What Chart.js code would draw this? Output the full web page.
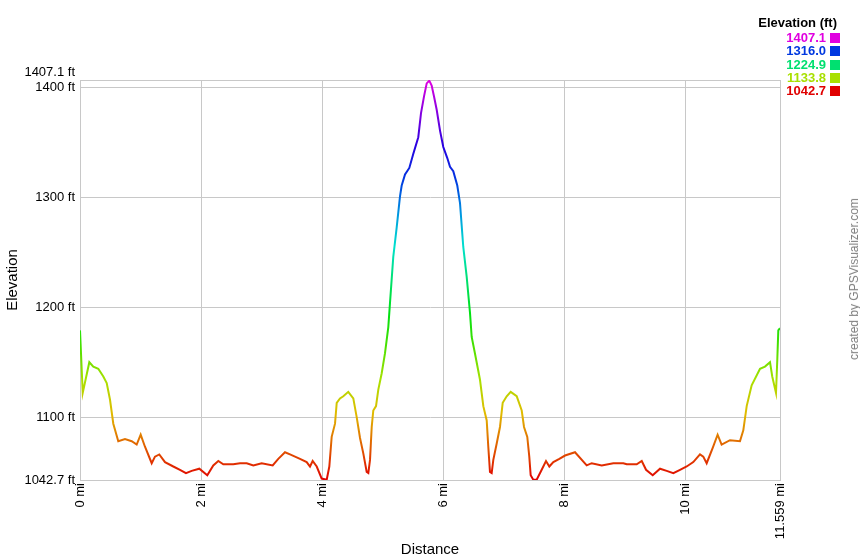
<!DOCTYPE html>
<html>
<head>
<meta charset="utf-8">
<script src="https://cdn.jsdelivr.net/npm/chart.js@4/dist/chart.umd.min.js"></script>
<style>
  body { margin: 0; background: #fff; font-family: "Liberation Sans", Arial, sans-serif; }
  #wrap { position: relative; width: 860px; height: 560px; }
  #legend { position: absolute; right: 20px; top: 14px; text-align: right; font-weight: bold; font-size: 13px; }
  #legend .title { color: #000; height: 17px; line-height: 17px; margin-right: 3px; }
  #legend .row { height: 13.3px; line-height: 13.3px; }
  #legend .sw { display: inline-block; width: 10px; height: 10px; margin-left: 4px; vertical-align: -1px; }
  #credit { position: absolute; left: 854px; top: 279px; transform: translate(-50%, -50%) rotate(-90deg);
            white-space: nowrap; font-size: 12px; color: #808080; }
</style>
</head>
<body>
<div id="wrap">
  <canvas id="profileChart" width="860" height="560"></canvas>
  <div id="legend"></div>
  <div id="credit">created by GPSVisualizer.com</div>
</div>
<script>
// distance along track (mi) and elevation (ft)
const distMi = [0, 0.045, 0.154, 0.220, 0.302, 0.385, 0.441, 0.495, 0.550, 0.632, 0.743, 0.854, 0.936, 1.002,
  1.073, 1.184, 1.238, 1.309, 1.404, 1.541, 1.651, 1.750, 1.844, 1.970, 2.102, 2.201, 2.284, 2.366, 2.531,
  2.642, 2.753, 2.862, 3.000, 3.182, 3.274, 3.385, 3.468, 3.633, 3.743, 3.798, 3.842, 3.909, 3.991, 4.074,
  4.117, 4.156, 4.211, 4.239, 4.293, 4.348, 4.430, 4.513, 4.569, 4.624, 4.678, 4.734, 4.761, 4.789, 4.817,
  4.843, 4.888, 4.926, 4.982, 5.036, 5.091, 5.119, 5.173, 5.230, 5.284, 5.312, 5.367, 5.438, 5.504, 5.586,
  5.631, 5.680, 5.725, 5.768, 5.807, 5.846, 5.890, 5.945, 5.999, 6.065, 6.110, 6.164, 6.230, 6.275, 6.329,
  6.385, 6.440, 6.468, 6.522, 6.605, 6.660, 6.716, 6.742, 6.770, 6.798, 6.825, 6.881, 6.935, 6.980, 7.046,
  7.112, 7.211, 7.294, 7.332, 7.386, 7.419, 7.442, 7.485, 7.541, 7.624, 7.695, 7.750, 7.816, 7.915, 8.009,
  8.174, 8.367, 8.450, 8.615, 8.807, 8.972, 9.028, 9.193, 9.276, 9.347, 9.457, 9.578, 9.688, 9.798, 9.908,
  10.018, 10.127, 10.238, 10.292, 10.348, 10.448, 10.529, 10.595, 10.733, 10.898, 10.953, 11.009, 11.091,
  11.229, 11.311, 11.394, 11.431, 11.493, 11.514, 11.531, 11.559];
const elevFt = [1179, 1122, 1150, 1146, 1144, 1137, 1131, 1116, 1094, 1078, 1080, 1078, 1075, 1084,
  1073, 1058, 1064, 1066, 1059, 1055, 1052, 1049, 1051, 1053, 1047, 1056, 1060, 1057, 1057,
  1058, 1058, 1056, 1058, 1056, 1062, 1068, 1066, 1062, 1059, 1055, 1060, 1055, 1044, 1043,
  1055, 1082, 1094, 1113, 1117, 1119, 1123, 1117, 1100, 1081, 1067, 1050, 1049, 1061, 1091,
  1106, 1110, 1125, 1140, 1158, 1182, 1204, 1246, 1273, 1301, 1311, 1321, 1327, 1340, 1355,
  1377, 1392, 1404, 1406.5, 1402, 1392, 1380, 1361, 1346, 1336, 1328, 1324, 1311, 1295, 1255,
  1228, 1195, 1173, 1158, 1134, 1110, 1097, 1073, 1050, 1049, 1061, 1076, 1091, 1113, 1119,
  1123, 1119, 1106, 1091, 1082, 1064, 1047, 1043, 1043, 1052, 1060, 1055, 1059, 1062, 1065,
  1068, 1056, 1058, 1056, 1058, 1058, 1057, 1057, 1060, 1052, 1047, 1053, 1051, 1049, 1052,
  1055, 1059, 1066, 1064, 1058, 1072, 1084, 1075, 1079, 1078, 1088, 1110, 1129,
  1144, 1146, 1150, 1137, 1122, 1152, 1179, 1181];

const elevMin = 1042.7;
const elevMax = 1407.1;
const yTicks = [1042.7, 1100, 1200, 1300, 1400, 1407.1];
const xTicks = [0, 2, 4, 6, 8, 10, 11.559];
const legendValues = [1407.1, 1316.0, 1224.9, 1133.8, 1042.7];

// hue runs red (low) -> magenta (high)
function elevColor(v) {
    const hue = (v - elevMin) / (elevMax - elevMin) * 300;
    return `hsl(${hue}, 100%, 44%)`;
}

// build the legend
const legendEl = document.getElementById('legend');
legendEl.innerHTML = '<div class="title">Elevation (ft)</div>' + legendValues.map(v =>
    `<div class="row" style="color:${elevColor(v)}">${v.toFixed(1)}<span class="sw" style="background:${elevColor(v)}"></span></div>`
).join('');

const font = { family: '"Liberation Sans", Arial, sans-serif', size: 13 };
const gridColor = '#c8c8c8';

const ctx = document.getElementById('profileChart').getContext('2d');
new Chart(ctx, {
    type: 'line',
    data: {
        datasets: [{
            data: distMi.map((d, i) => ({ x: d, y: elevFt[i] })),
            borderWidth: 2,
            pointRadius: 0,
            tension: 0,
            fill: false,
            borderColor: function(context) {
                const area = context.chart.chartArea;
                if (!area) return 'red';
                const g = context.chart.ctx.createLinearGradient(0, area.bottom, 0, area.top);
                for (let i = 0; i <= 12; i++) g.addColorStop(i / 12, `hsl(${i * 25}, 100%, 44%)`);
                return g;
            }
        }]
    },
    options: {
        responsive: false,
        animation: false,
        layout: { padding: { top: 80, right: 80, left: 0, bottom: 0 } },
        plugins: { legend: { display: false }, tooltip: { enabled: false } },
        scales: {
            x: {
                type: 'linear',
                min: 0,
                max: 11.559,
                afterFit: scale => { scale.height = 80; },
                afterBuildTicks: scale => { scale.ticks = xTicks.map(v => ({ value: v })); },
                grid: { color: gridColor, drawTicks: false },
                border: { color: gridColor },
                ticks: {
                    autoSkip: false,
                    minRotation: 90,
                    maxRotation: 90,
                    padding: 3,
                    color: '#000',
                    font: font,
                    callback: v => v + ' mi'
                },
                title: { display: true, text: 'Distance', color: '#000', font: { family: font.family, size: 15 }, padding: { top: 0, bottom: 1 } }
            },
            y: {
                min: elevMin,
                max: elevMax,
                afterFit: scale => { scale.width = 80; },
                afterBuildTicks: scale => { scale.ticks = yTicks.map(v => ({ value: v })); },
                grid: { color: gridColor, drawTicks: false },
                border: { color: gridColor },
                ticks: {
                    autoSkip: false,
                    padding: 5,
                    color: '#000',
                    font: font,
                    callback: v => v === elevMax ? [v + ' ft', ''] : v + ' ft'
                },
                title: { display: true, text: 'Elevation', color: '#000', font: { family: font.family, size: 15 }, padding: { top: 4, bottom: 0 } }
            }
        }
    }
});
</script>
</body>
</html>
